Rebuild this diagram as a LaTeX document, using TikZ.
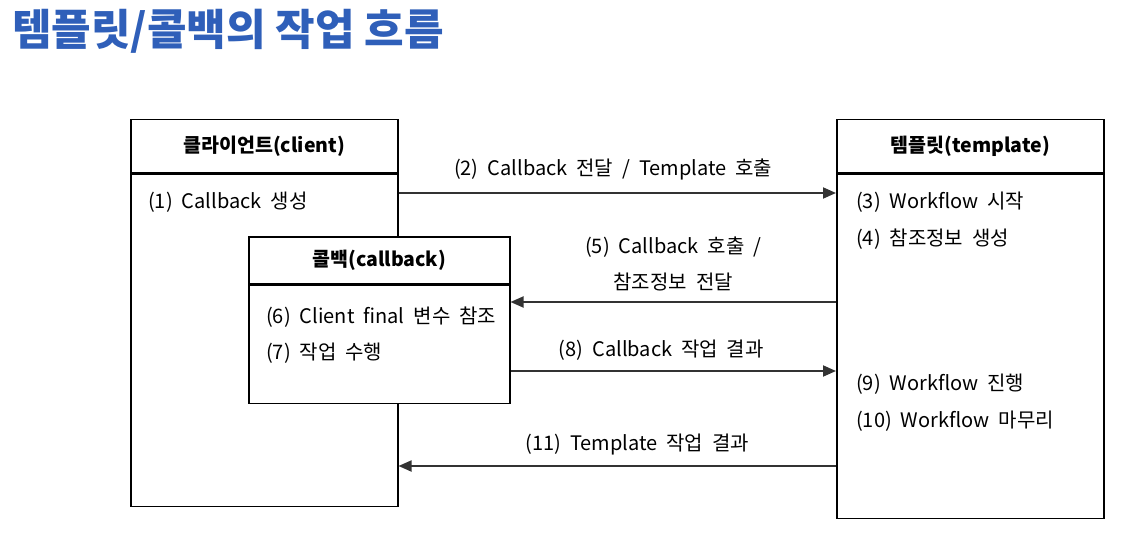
\documentclass[tikz,border=0pt]{standalone}
\usepackage{fontspec}
\setmainfont[WordSpace=2]{Noto Sans CJK KR}
\newfontfamily\titlefont{Noto Sans CJK KR}
\usetikzlibrary{positioning, calc, arrows.meta}
\definecolor{titleblue}{HTML}{2F5FB9}
\definecolor{arrowgray}{HTML}{333333}

\begin{document}
\begin{tikzpicture}[x=1pt, y=-1pt,
    box/.style={draw, line width=1.5pt, fill=white, inner sep=0pt},
    headtext/.style={font=\fontsize{19.5}{22}\selectfont\bfseries},
    item/.style={anchor=west, inner sep=0pt, font=\fontsize{20}{23}\selectfont},
    flow/.style={draw=arrowgray, line width=1.8pt, -{Triangle[length=13pt,width=11pt]}},
    flowlabel/.style={midway, inner sep=0pt, font=\fontsize{20}{23}\selectfont}]
    \useasboundingbox (0,0) rectangle (1131,537);

    % title
    \node[anchor=west, inner sep=0pt, text=titleblue, font=\titlefont\fontsize{43}{46}\selectfont\bfseries] (title) at (12,31) {템플릿/콜백의 작업 흐름};

    % client
    \node[box, headtext, minimum width=267pt, minimum height=53pt, anchor=north west] (clienthead) at (130,119) {클라이언트(client)};
    \node[box, minimum width=267pt, minimum height=332pt, below=0pt of clienthead] (clientbody) {};
    \node[item] (s1) at ($(clientbody.north west)+(18,29)$) {(1) Callback 생성};

    % template
    \node[box, headtext, minimum width=267pt, minimum height=53pt, anchor=north west] (tplhead) at (836,119) {템플릿(template)};
    \node[box, minimum width=267pt, minimum height=344pt, below=0pt of tplhead] (tplbody) {};
    \node[item] (s3) at ($(tplbody.north west)+(20,29)$) {(3) Workflow 시작};
    \node[item] (s4) at ($(tplbody.north west)+(20,66)$) {(4) 참조정보 생성};
    \node[item] (s9) at ($(tplbody.north west)+(20,211)$) {(9) Workflow 진행};
    \node[item] (s10) at ($(tplbody.north west)+(20,248)$) {(10) Workflow 마무리};

    % messages
    \coordinate (y2) at (0,193);
    \coordinate (y5) at (0,302);
    \coordinate (y8) at (0,371);
    \coordinate (y11) at (0,466);
    \draw[flow] (clientbody.east |- y2) -- node[flowlabel, above=12pt, xshift=-4pt] (m2) {(2) Callback 전달 / Template 호출} (tplbody.west |- y2);
    \draw[flow] (tplbody.west |- y11) -- node[flowlabel, above=10pt, xshift=20pt] (m11) {(11) Template 작업 결과} (clientbody.east |- y11);

    % callback
    \node[box, headtext, minimum width=261pt, minimum height=47pt, anchor=north west] (cbhead) at (248,236) {콜백(callback)};
    \node[box, minimum width=261pt, minimum height=118pt, below=0pt of cbhead] (cbbody) {};
    \node[item] (s6) at ($(cbbody.north west)+(18,33)$) {(6) Client final 변수 참조};
    \node[item] (s7) at ($(cbbody.north west)+(18,69)$) {(7) 작업 수행};

    \draw[flow] (tplbody.west |- y5) -- node[flowlabel, above=10pt, align=center] (m5) {(5) Callback 호출 /\\[13pt]참조정보 전달} (cbbody.east |- y5);
    \draw[flow] (cbbody.east |- y8) -- node[flowlabel, above=10pt, xshift=-12pt] (m8) {(8) Callback 작업 결과} (tplbody.west |- y8);
\end{tikzpicture}
\end{document}
